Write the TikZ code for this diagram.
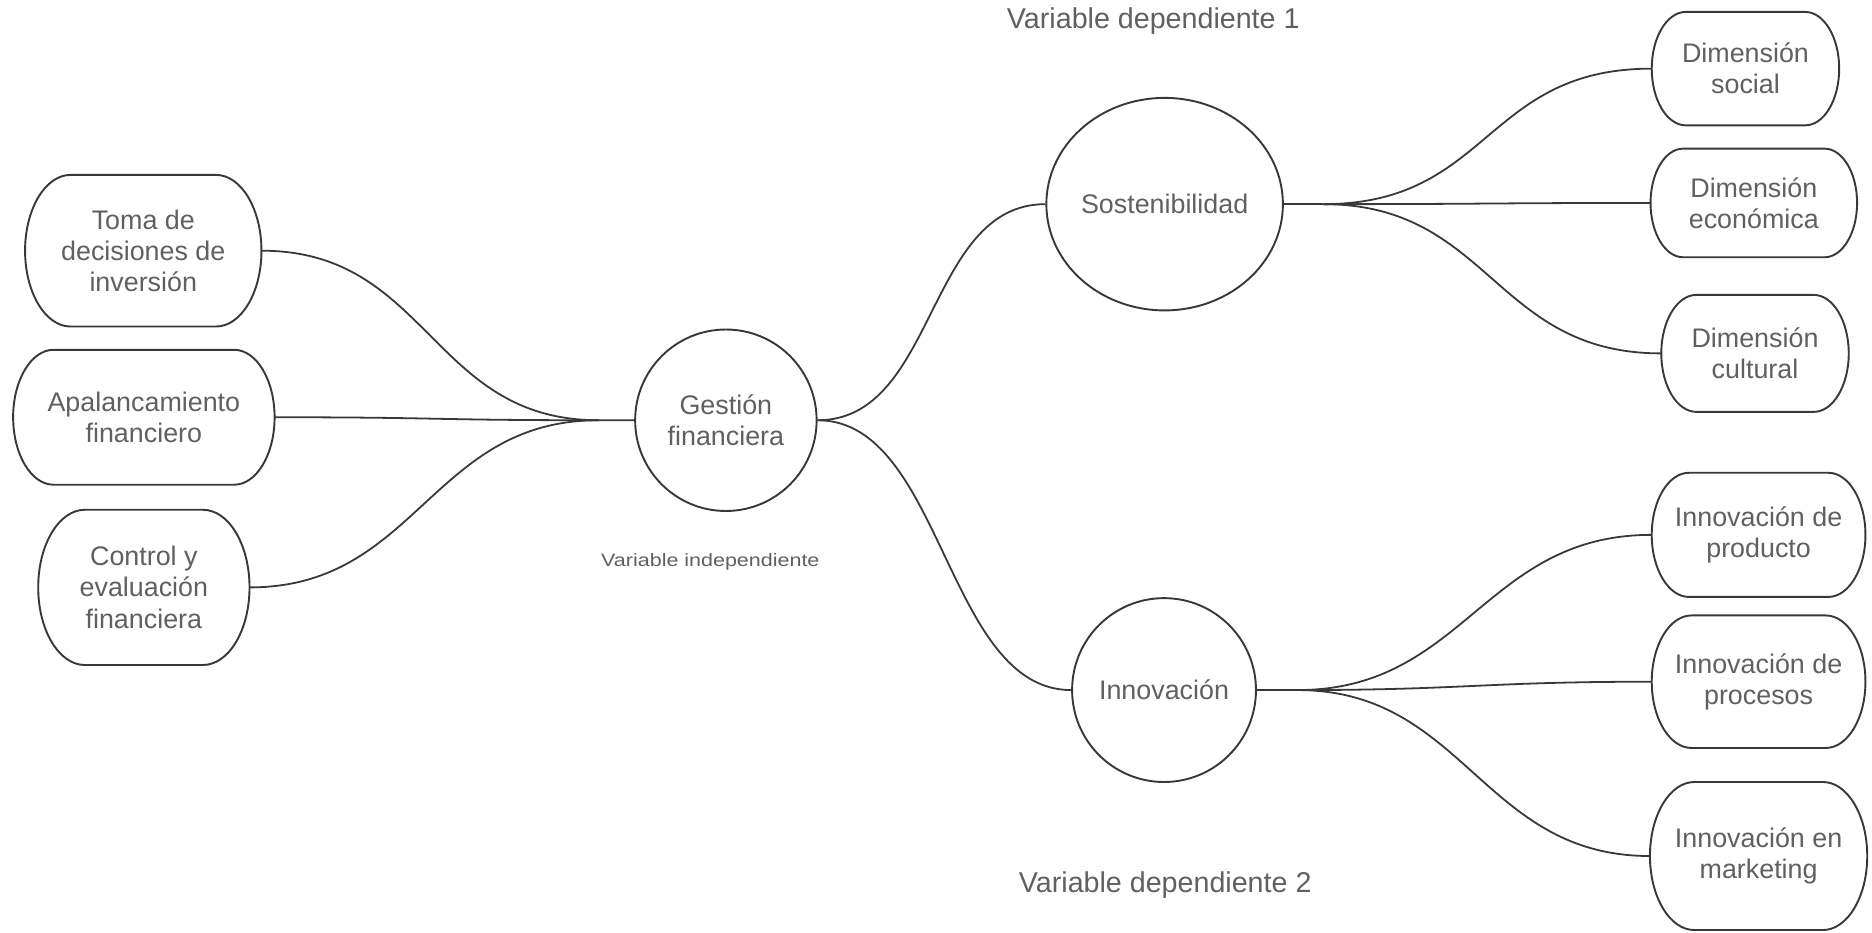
\documentclass[tikz,border=0pt]{standalone}
\usepackage{fontspec}
\setmainfont{Liberation Sans}
\usetikzlibrary{shapes.geometric,calc}
\definecolor{txt}{HTML}{606060}
\definecolor{ln}{HTML}{383838}
\tikzset{
  conn/.style={draw=ln, line width=1.5pt},
  shapeline/.style={draw=ln, line width=1.6pt},
  lbl/.style={text=txt, font=\fontsize{22.5}{26}\selectfont, align=center, inner sep=0pt},
  big/.style={lbl, ellipse, shapeline, inner sep=0pt},
  vtitle/.style={text=txt, font=\fontsize{24}{28}\selectfont, inner sep=0pt},
}
\newcommand\pillbox[6]{% name, cx, cy, w, h, text
  \node[lbl, minimum width=#4pt, minimum height=#5pt] (#1) at (#2,#3) {#6};
  \pgfmathsetmacro\prx{0.3*#5}
  \draw[shapeline] ({#2-#4/2+\prx},{#3+#5/2}) -- ({#2+#4/2-\prx},{#3+#5/2})
    arc[start angle=90,end angle=-90,x radius=\prx,y radius=#5/2]
    -- ({#2-#4/2+\prx},{#3-#5/2})
    arc[start angle=270,end angle=90,x radius=\prx,y radius=#5/2] -- cycle;
}
\begin{document}
\begin{tikzpicture}[x=1pt,y=1pt]
\useasboundingbox (0,0) rectangle (1568,-780.7);

% left boxes
\pillbox{t1}{120}{-210}{198}{127}{Toma de\\decisiones de\\inversión}
\pillbox{t2}{120.5}{-349.5}{219}{113}{Apalancamiento\\financiero}
\pillbox{t3}{120.5}{-492}{177}{130}{Control y\\evaluación\\financiera}

% right boxes
\pillbox{d1}{1462}{-57.5}{157}{95}{Dimensión\\social}
\pillbox{d2}{1469}{-170}{173}{91}{Dimensión\\económica}
\pillbox{d3}{1470}{-296}{157}{98}{Dimensión\\cultural}
\pillbox{p1}{1473}{-448}{179}{104}{Innovación de\\producto}
\pillbox{p2}{1473}{-571}{179}{111}{Innovación de\\procesos}
\pillbox{p3}{1473}{-717}{182}{124}{Innovación en\\marketing}

% circles
\node[big, minimum size=152pt] (g) at (608,-352) {Gestión\\financiera};
\node[big, minimum width=193pt, minimum height=178pt] (s) at (975.5,-171) {Sostenibilidad};
\node[big, minimum size=154pt] (i) at (975,-578) {Innovación};

% labels
\node[vtitle] (v1) at (966,-18) {Variable dependiente 1};
\node[vtitle] (v2) at (976,-741) {Variable dependiente 2};
\node[text=txt, font=\fontsize{15}{18}\selectfont, inner sep=0pt] (vi) at (595,-471) {\scalebox{1.2}[1]{Variable independiente}};

% junction points
\coordinate (gin) at ($(g.west)+(-30,0)$);
\coordinate (sout) at ($(s.east)+(33,0)$);
\coordinate (iout) at ($(i.east)+(34,0)$);

% left connectors
\draw[conn] (t1.east) .. controls +(140,0) and +(-140,0) .. (gin) -- (g.west);
\draw[conn] (t2.east) .. controls +(140,0) and +(-140,0) .. (gin);
\draw[conn] (t3.east) .. controls +(140,0) and +(-140,0) .. (gin);

% middle connectors
\draw[conn] (g.east) .. controls +(100,0) and +(-100,0) .. (s.west);
\draw[conn] (g.east) .. controls +(105,0) and +(-105,0) .. (i.west);

% right connectors
\draw[conn] (s.east) -- (sout);
\draw[conn] (sout) .. controls +(140,0) and +(-140,0) .. (d1.west);
\draw[conn] (sout) .. controls +(140,0) and +(-140,0) .. (d2.west);
\draw[conn] (sout) .. controls +(140,0) and +(-140,0) .. (d3.west);
\draw[conn] (i.east) -- (iout);
\draw[conn] (iout) .. controls +(140,0) and +(-140,0) .. (p1.west);
\draw[conn] (iout) .. controls +(140,0) and +(-140,0) .. (p2.west);
\draw[conn] (iout) .. controls +(140,0) and +(-140,0) .. (p3.west);
\end{tikzpicture}
\end{document}
